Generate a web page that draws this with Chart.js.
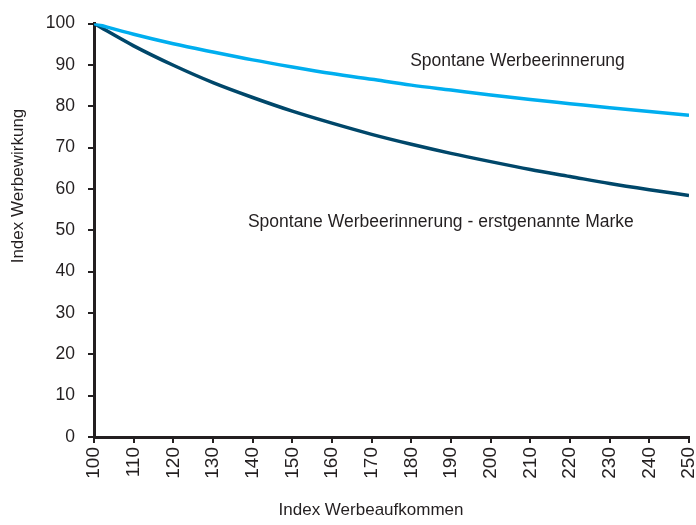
<!DOCTYPE html>
<html>
<head>
<meta charset="utf-8">
<script src="https://cdn.jsdelivr.net/npm/chart.js@4"></script>
<style>
  html, body { margin: 0; padding: 0; background: #fff; }
  #wrap { width: 696px; height: 525px; }
</style>
</head>
<body>
<div id="wrap"><canvas id="werbeChart" width="696" height="525"></canvas></div>
<script>
// Index Werbeaufkommen (x)
const werbeaufkommen = [100, 110, 120, 130, 140, 150, 160, 170, 180, 190, 200, 210, 220, 230, 240, 250];
// Spontane Werbeerinnerung
const erinnerung = [100, 97.4, 95.1, 93.1, 91.2, 89.5, 87.9, 86.5, 85.1, 83.9, 82.7, 81.6, 80.6, 79.6, 78.7, 77.8];
// Spontane Werbeerinnerung - erstgenannte Marke
const erstgenannt = [100, 94.6, 89.9, 85.7, 82.1, 78.8, 75.9, 73.2, 70.8, 68.6, 66.6, 64.7, 63.0, 61.3, 59.8, 58.4];
const yTicks = [0, 10, 20, 30, 40, 50, 60, 70, 80, 90, 100];

const seriesLabels = ['Spontane Werbeerinnerung', 'Spontane Werbeerinnerung - erstgenannte Marke'];
const textColor = '#231f20';
const fontFamily = "'Liberation Sans', Arial, Helvetica, sans-serif";

function toPoints(values) {
    return werbeaufkommen.map((x, i) => ({ x: x, y: values[i] }));
}

// line labels and axis titles drawn at fixed spots
const labelPlugin = {
    id: 'labelPlugin',
    afterDraw(chart) {
        const c = chart.ctx;
        const xs = chart.scales.x, ys = chart.scales.y;
        c.save();
        c.fillStyle = textColor;
        c.font = '17.5px ' + fontFamily;
        c.textBaseline = 'middle';
        c.textAlign = 'left';
        c.fillText(seriesLabels[0], xs.getPixelForValue(179.7), ys.getPixelForValue(90.9));
        c.fillText(seriesLabels[1], xs.getPixelForValue(138.8), ys.getPixelForValue(51.9));

        c.textAlign = 'center';
        c.font = '17px ' + fontFamily;
        c.fillText('Index Werbeaufkommen', 371, 510);
        c.translate(18, 186);
        c.rotate(-Math.PI / 2);
        c.fillText('Index Werbewirkung', 0, 0);
        c.restore();
    }
};

const ctx = document.getElementById('werbeChart').getContext('2d');
const chart = new Chart(ctx, {
    type: 'line',
    data: {
        datasets: [{
            label: seriesLabels[0],
            data: toPoints(erinnerung),
            borderColor: '#00aeef',
            borderWidth: 3.5,
            pointRadius: 0,
            cubicInterpolationMode: 'monotone'
        }, {
            label: seriesLabels[1],
            data: toPoints(erstgenannt),
            borderColor: '#00476a',
            borderWidth: 3.5,
            pointRadius: 0,
            cubicInterpolationMode: 'monotone'
        }]
    },
    options: {
        responsive: false,
        animation: false,
        layout: {
            padding: { top: 19, right: 7, bottom: 0, left: 0 }
        },
        plugins: {
            legend: { display: false },
            tooltip: { enabled: false }
        },
        scales: {
            x: {
                type: 'linear',
                min: 100,
                max: 250,
                afterBuildTicks: function(scale) {
                    scale.ticks = werbeaufkommen.map(v => ({ value: v }));
                },
                afterFit: function(scale) {
                    scale.height = 88;
                    scale.paddingLeft = 0;
                    scale.paddingRight = 0;
                },
                ticks: {
                    minRotation: 90,
                    maxRotation: 90,
                    padding: 4,
                    color: textColor,
                    font: { family: fontFamily, size: 19 }
                },
                grid: {
                    drawOnChartArea: false,
                    drawTicks: true,
                    tickLength: 6,
                    color: textColor,
                    lineWidth: 2
                },
                border: { color: textColor, width: 3 }
            },
            y: {
                min: 0,
                max: 100,
                afterBuildTicks: function(scale) {
                    scale.ticks = yTicks.map(v => ({ value: v }));
                },
                afterFit: function(scale) {
                    scale.width = 94;
                },
                ticks: {
                    padding: 13,
                    color: textColor,
                    font: { family: fontFamily, size: 17.5 }
                },
                grid: {
                    drawOnChartArea: false,
                    drawTicks: true,
                    tickLength: 6,
                    color: textColor,
                    lineWidth: 2
                },
                border: { color: textColor, width: 3 }
            }
        }
    },
    plugins: [labelPlugin]
});
</script>
</body>
</html>
